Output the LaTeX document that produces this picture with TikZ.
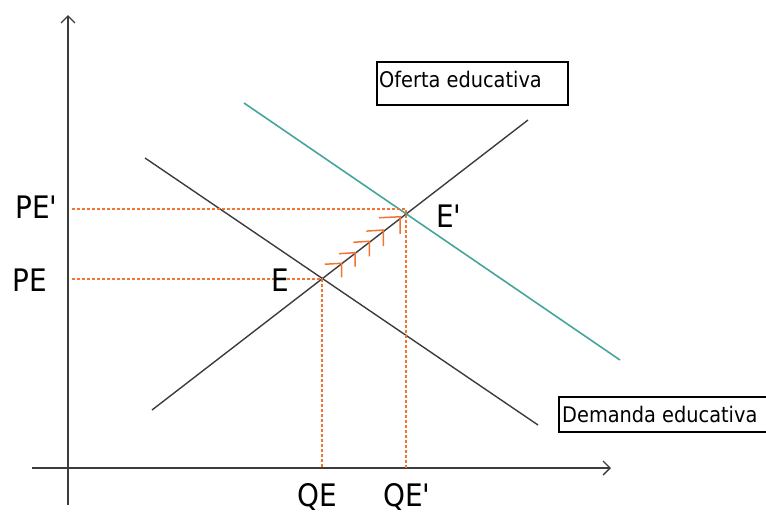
\documentclass[tikz,border=0pt]{standalone}
\usepackage{fontspec}
\setmainfont{DejaVu Sans Condensed}
\usetikzlibrary{arrows.meta,calc}
\definecolor{linegray}{RGB}{60,60,60}
\definecolor{tealc}{RGB}{70,165,155}
\definecolor{orangec}{RGB}{245,115,50}
\tikzset{
  axis/.style={draw=linegray,line width=1.4pt,-{Straight Barb[length=7pt,width=14pt]}},
  curve/.style={draw=linegray,line width=1.4pt},
  guide/.style={draw=orangec,line width=1.3pt,dash pattern=on 3pt off 2pt},
  marker/.style={draw=orangec,line width=1.5pt},
  lbl/.style={font=\fontsize{31}{34}\selectfont,inner sep=0pt,anchor=base west},
  boxtxt/.style={font=\fontsize{21.5}{24}\selectfont,inner sep=0pt,anchor=base west},
  tbox/.style={draw=black,line width=1.1pt}
}
\begin{document}
\begin{tikzpicture}[x=1pt,y=-1pt]
\useasboundingbox (0,0) rectangle (766,512);
% axes
\coordinate (yb) at (68,505);
\coordinate (yt) at (68,15);
\coordinate (xl) at (32,468);
\coordinate (xr) at (611,468);
\draw[axis] (yb) -- (yt);
\draw[axis] (xl) -- (xr);
% lines
\coordinate (s1) at (152,410);
\coordinate (s2) at (528,120);
\coordinate (d1) at (145,158);
\coordinate (d2) at (538,425);
\coordinate (t1) at (244,103);
\coordinate (t2) at (620,360);
\coordinate (E) at (322,279);
\coordinate (Ep) at (406,212);
\draw[curve] (s1) -- (s2);
\draw[curve] (d1) -- (d2);
\draw[draw=tealc,line width=1.6pt] (t1) -- (t2);
% guides
\coordinate (pe) at (72,279);
\coordinate (pep) at (72,209);
\coordinate (qe) at (322,468);
\coordinate (qep) at (406,468);
\draw[guide] (pe) -- (E) -- (qe);
\draw[guide] (pep) -- (406,209) -- (qep);
% markers
\foreach \t/\h/\v in {0.235/17/14,0.393/16/14,0.563/16/15,0.73/17/16,0.929/21/17}{
  \draw[marker] ($(E)!\t!(Ep)+(-\h,1)$) -- ($(E)!\t!(Ep)$) -- ($(E)!\t!(Ep)+(0,\v)$);
}
% labels
\node[lbl] (lPEp) at (15,218) {PE\textquotesingle};
\node[lbl] (lPE) at (12,291) {PE};
\node[lbl] (lQE) at (297,506) {QE};
\node[lbl] (lQEp) at (383,506) {QE\textquotesingle};
\node[lbl] (lE) at (271,291) {E};
\node[lbl] (lEp) at (436,227) {E\textquotesingle};
% boxes
\draw[tbox] (377,62) rectangle (568,105);
\node[boxtxt] (of) at (379,87) {Oferta educativa};
\draw[tbox] (559,397) rectangle (770,432);
\node[boxtxt] (de) at (562,422) {Demanda educativa};
\end{tikzpicture}
\end{document}
